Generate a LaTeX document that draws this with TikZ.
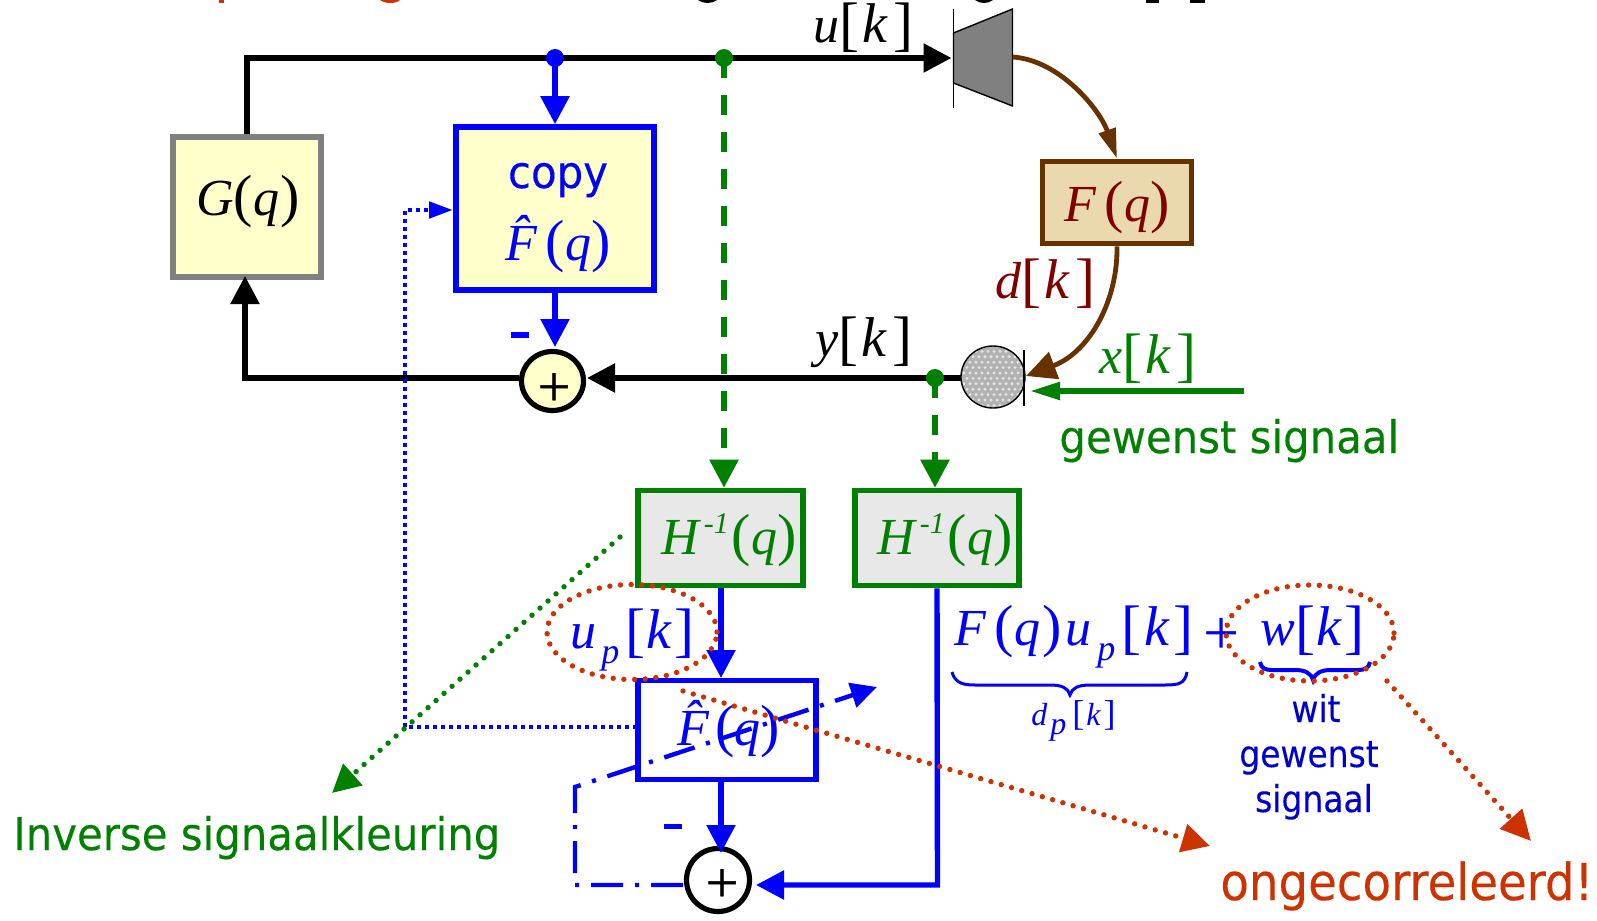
\documentclass[tikz,border=0pt]{standalone}
\usepackage{fontspec}
\setmainfont{Liberation Serif}
\newfontfamily\plusf[FakeBold=0.8]{Liberation Serif}
\newfontfamily\tah[FakeStretch=0.93,FakeBold=0.2]{DejaVu Sans}
\newfontfamily\tahn[FakeStretch=0.89,FakeBold=0.2]{DejaVu Sans}
\newfontfamily\tahg[FakeStretch=0.915,FakeBold=0.2]{DejaVu Sans}
\usetikzlibrary{arrows.meta,shapes.geometric}
\definecolor{gr}{HTML}{008000}
\definecolor{bl}{HTML}{0000FF}
\definecolor{dbl}{HTML}{0000CC}
\definecolor{org}{HTML}{CC3300}
\definecolor{brn}{HTML}{663300}
\definecolor{drd}{HTML}{800000}
\definecolor{ylw}{HTML}{FFFFCC}
\definecolor{parch}{HTML}{EBD9AE}
\newcommand\Lb{\raisebox{-1pt}{\fontsize{30}{30}\selectfont\upshape[}}
\newcommand\Rb{\raisebox{-1pt}{\fontsize{30}{30}\selectfont\upshape]}}
\newcommand\Lp{{\fontsize{29}{29}\selectfont\upshape(}}
\newcommand\Rp{{\fontsize{29}{29}\selectfont\upshape)}}
\newcommand\K{{\fontsize{28}{28}\selectfont k}}
\newcommand\KK{\kern1.5pt\K\kern3pt}
\newcommand\Sb[1]{\raisebox{-7.5pt}{\fontsize{18}{18}\selectfont #1}}
\newcommand\Hinv{H\kern2.5pt\raisebox{10.5pt}{\fontsize{15}{15}\selectfont -1}\kern1.5pt\Lp q\Rp}
\tikzset{
  box/.style={draw,rectangle,line width=2.8pt,inner sep=0pt,outer sep=1.4pt},
  mth/.style={anchor=base west,inner sep=0pt,font=\fontsize{26}{26}\selectfont\itshape},
  sns/.style={anchor=base west,inner sep=0pt,font=\tah\fontsize{22.5}{22.5}\selectfont},
  snss/.style={anchor=base,inner sep=0pt,font=\tahn\fontsize{18.5}{18.5}\selectfont,text=dbl},
  plusmark/.style={anchor=base,inner sep=0pt,font=\plusf\fontsize{29}{29}\selectfont},
  sum/.style={draw,ellipse,line width=2.6pt,inner sep=0pt,outer sep=1.3pt},
  wire/.style={line width=2.7pt},
  big/.style={-{Triangle[length=14pt,width=14pt]}},
  narrow/.style={-{Triangle[length=15pt,width=8.5pt]}},
  ddot/.style={line width=2.7pt,line cap=round,dash pattern=on 0pt off 5.35pt},
  bdot/.style={line width=2.4pt,dash pattern=on 2pt off 2pt},
  ddash/.style={dash pattern=on 10pt off 8.5pt},
  ddotdash/.style={line width=2.2pt,dash pattern=on 16pt off 6pt on 2pt off 6pt},
}
\begin{document}
\begin{tikzpicture}[x=0.5pt,y=-0.5pt]
\useasboundingbox (0,0) rectangle (1597,921);

% clipped remains of the title line
\fill[org] (219,0) rectangle (224,3);
\fill[org] (380,0) .. controls (385,4) and (396,4) .. (400,0) -- cycle;
\fill (698,0) .. controls (703,4) and (712,4) .. (717,0) -- cycle;
\fill (975,0) .. controls (980,4) and (988,4) .. (993,0) -- cycle;
\fill (1146,0) rectangle (1159,2.5);
\fill (1190,0) rectangle (1205,2.5);

% boxes
\node[box,draw=gray,fill=ylw,minimum width=74pt,minimum height=70pt] (G) at (247,207) {};
\node[box,draw=bl,fill=ylw,minimum width=99pt,minimum height=81.5pt] (Fcopy) at (555,208.5) {};
\node[box,draw=brn,fill=parch,minimum width=74.5pt,minimum height=41pt] (F) at (1117,202.5) {};
\node[box,draw=gr,fill=black!9,minimum width=82.5pt,minimum height=47.5pt] (H1) at (720.5,538) {};
\node[box,draw=gr,fill=black!9,minimum width=82pt,minimum height=47.5pt] (H2) at (937,538) {};
\node[box,draw=bl,minimum width=89pt,minimum height=49.5pt] (Fhat) at (727,730) {};
\node[sum,fill=ylw,minimum width=31pt,minimum height=29.5pt] (S1) at (552.5,381) {};
\node[sum,fill=white,minimum width=31.5pt,minimum height=31.5pt] (S2) at (718,880) {};

% speaker and microphone
\draw[fill=gray,line width=0.7pt] (953.5,33) -- (1012.5,9) -- (1012.5,106) -- (953.5,83) -- cycle;
\draw[line width=0.7pt] (953.5,9) -- (953.5,108);
\node[ellipse,fill=black!30,minimum width=32pt,minimum height=31pt,inner sep=0pt,outer sep=0pt] (M) at (993,377) {};
\begin{scope}
  \clip (993,377) ellipse[x radius=32,y radius=31];
  \foreach \i in {0,...,10} \foreach \j in {0,...,11}
    \fill[black!10] ({961+6*\i+3*mod(\j,2)},{346+5.4*\j}) circle[radius=1.6];
\end{scope}
\draw[line width=0.7pt] (993,377) ellipse[x radius=32,y radius=31];
\draw[line width=0.7pt] (1024,350) -- (1024,406);

% named junctions
\coordinate (spkin) at (951.5,58);
\coordinate (spkout) at (1012.5,57);
\coordinate (corner1) at (247,58);
\coordinate (jb) at (555,58);
\coordinate (jg) at (724,58);
\coordinate (jy) at (935,378);
\coordinate (micin) at (1026,376);
\coordinate (xend) at (1244,391);
\coordinate (xtip) at (1030,391);
\coordinate (corner2) at (245,378);
\coordinate (s1r) at (587,378);
\coordinate (s1l) at (519,378);
\coordinate (s1t) at (555,347);
\coordinate (gb) at (245,276);
\coordinate (dcorner) at (405,727);
\coordinate (dup) at (405,210);
\coordinate (dtip) at (453,210);
\coordinate (dstart) at (637,727);
\coordinate (fh) at (721,678);
\coordinate (fb) at (721,782);
\coordinate (s2t) at (721,853);
\coordinate (c3) at (937.5,885);
\coordinate (s2r) at (756,885);
\coordinate (s2l) at (683,885);
\coordinate (dd1) at (575,885);
\coordinate (dd2) at (575,787);
\coordinate (ddtip) at (877,687);
\coordinate (gs) at (620,537);
\coordinate (gt) at (332,793);
\coordinate (rs1) at (683,691);
\coordinate (rt1) at (1210,846);
\coordinate (rs2) at (1387,681);
\coordinate (rt2) at (1531,841);

% black wires
\draw[wire] (G.north) -- (corner1) -- (jb) -- (jg);
\draw[wire,big] (jg) -- (spkin);
\draw[wire] (M.west |- jy) -- (jy);
\draw[wire,big] (jy) -- (s1r);
\draw[wire,big] (s1l) -- (corner2) -- (gb);

% brown curves
\draw[line width=2.4pt,brn,narrow] (spkout) .. controls (1060,60) and (1100,110) .. (F.north);
\draw[line width=2.4pt,brn,-{Triangle[length=15pt,width=14pt]}] (F.south) .. controls (1118,300) and (1090,352) .. (micin);

% blue wires
\draw[wire,bl,big] (jb) -- (Fcopy.north);
\draw[wire,bl,big] (Fcopy.south) -- (s1t);
\draw[wire,bl,big] (H1.south -| fh) -- (fh);
\draw[wire,bl,big] (fb) -- (s2t);
\draw[wire,bl,big] (H2.south) -- (c3) -- (s2r);

% green wires
\draw[wire,gr,ddash,big] (jg) -- (H1.north -| jg);
\draw[wire,gr,ddash,big] (jy) -- (H2.north -| jy);
\draw[wire,gr,narrow] (xend) -- (xtip);

% dotted and dash-dot lines
\draw[bl,bdot,-{Triangle[length=12pt,width=8pt]}] (dstart) -- (dcorner) -- (dup) -- (dtip);
\draw[bl,ddotdash,-{Triangle[length=13pt,width=12.5pt]}] (s2l) -- (dd1) -- (dd2) -- (ddtip);

% junction dots
\fill[bl] (jb) circle[radius=9];
\fill[gr] (jg) circle[radius=9];
\fill[gr] (jy) circle[radius=9];

% texts
\node[mth] (tG) at (196,215) {G\Lp q\kern.5pt\Rp};
\node[sns,anchor=base,text=bl] (tcopy) at (558,188) {copy};
\node[mth,text=bl] (tFc) at (505,260) {\^F\,\Lp q\Rp};
\node[mth,text=drd] (tF) at (1064,221) {F\,\Lp q\Rp};
\node[mth] (tu) at (813,42) {u\Lb\KK\Rb};
\node[mth] (ty) at (815,356) {y\Lb\KK\Rb};
\node[mth,text=drd] (td) at (995,298) {d\Lb\KK\Rb};
\node[mth,text=gr] (tx) at (1099,373) {x\Lb\KK\Rb};
\node[sns,text=gr] (tgew) at (1059,453) {gewenst signaal};
\node[mth,text=gr] (tH1) at (661,554) {\Hinv};
\node[mth,text=gr] (tH2) at (877,554) {\Hinv};
\node[mth,text=bl] (tup) at (570,648) {u\kern2.5pt\Sb{p}\kern3pt\Lb\kern.5pt\K\kern1.5pt\Rb};
\node[mth,text=bl] (tFh) at (677,745) {\^F\kern3pt\Lp q\Rp};
\node[mth,text=bl] (tsum) at (954,645) {F\,\Lp q\kern1pt\Rp\kern2pt u\kern3pt\Sb{p}\kern3pt\Lb\kern1.5pt\K\kern2pt\Rb};
\node[mth,text=bl,font=\fontsize{32}{32}\selectfont] (tplus) at (1203,654) {+};
\node[mth,text=bl] (tw) at (1260,645) {w\Lb\kern.5pt\K\kern2pt\Rb};
\node[mth,text=bl,font=\fontsize{16}{16}\selectfont\itshape] (tdp) at (1031,725) {d\kern1.5pt\raisebox{-4.5pt}{p}\kern3pt{\fontsize{18}{18}\selectfont\upshape[}\kern1pt k\kern1.5pt{\fontsize{18}{18}\selectfont\upshape]}};
\node[snss] (twit) at (1316,722) {wit};
\node[snss] (tgw2) at (1309,767) {gewenst};
\node[snss] (tsg) at (1314,812) {signaal};
\node[sns,text=gr] (tinv) at (13,850) {Inverse signaalkleuring};
\node[sns,text=org,font=\tahg\fontsize{25.5}{25.5}\selectfont] (tong) at (1220,900) {ongecorreleerd!};
\node[plusmark] (p1) at (554,406) {+};
\node[plusmark] (p2) at (722,902) {+};

% minus signs
\fill[bl] (511,332) rectangle (529,338);
\fill[bl] (664,824) rectangle (682,829);

% braces
\draw[bl,line width=1.5pt] (952,672) .. controls (955,684) and (965,685) .. (975,685) -- (1050,685) .. controls (1062,685) and (1068,688) .. (1070,695) .. controls (1072,688) and (1078,685) .. (1090,685) -- (1165,685) .. controls (1178,685) and (1185,684) .. (1187,672);
\draw[bl,line width=2pt] (1260,662) .. controls (1261,668) and (1265,670) .. (1272,670) -- (1295,670) .. controls (1305,670) and (1311,673) .. (1313,680) .. controls (1315,673) and (1321,670) .. (1331,670) -- (1358,670) .. controls (1365,670) and (1369,668) .. (1370,662);

% orange and green dotted
\draw[gr,ddot,-{Triangle[length=14pt,width=14pt]}] (gs) -- (gt);
\node[draw=org,ddot,ellipse,minimum width=85pt,minimum height=47.5pt,inner sep=0pt] (e1) at (632,632) {};
\node[draw=org,ddot,ellipse,minimum width=84pt,minimum height=48pt,inner sep=0pt] (e2) at (1310,633) {};
\draw[org,ddot,-{Triangle[length=14pt,width=14pt]}] (rs1) -- (rt1);
\draw[org,ddot,-{Triangle[length=15pt,width=14.5pt]}] (rs2) -- (rt2);
\end{tikzpicture}
\end{document}
